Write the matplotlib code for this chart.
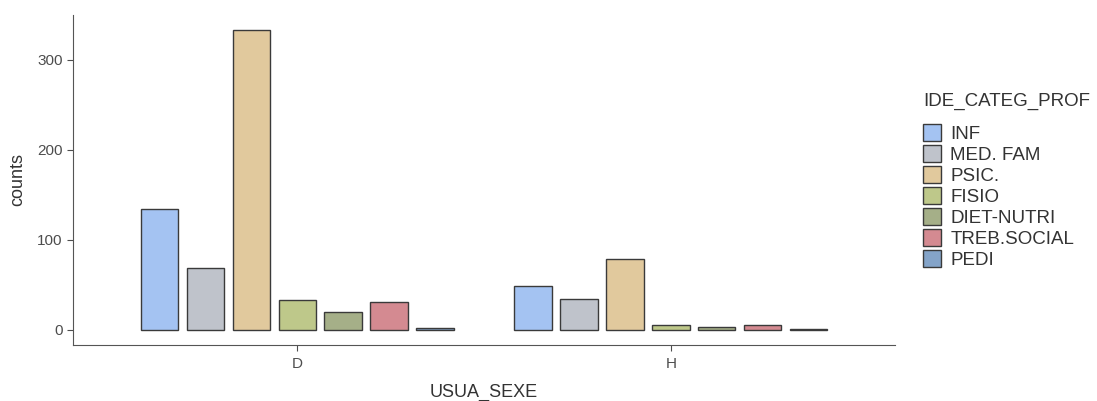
import matplotlib.pyplot as plt
import matplotlib.patches as mpatches
import numpy as np

plt.rcParams['font.family'] = ['Liberation Sans', 'DejaVu Sans']

groups = ['D', 'H']
categories = ['INF', 'MED. FAM', 'PSIC.', 'FISIO', 'DIET-NUTRI', 'TREB.SOCIAL', 'PEDI']
counts_d = [134, 69, 333, 33, 20, 31, 2]
counts_h = [49, 34, 79, 5, 3, 5, 1]
colors = ['#a4c3f2', '#bfc3cb', '#e1c99d', '#bec88a', '#a5af88', '#d48a91', '#84a4c9']

fig = plt.figure(figsize=(10.97, 4.01), dpi=100)
ax = fig.add_axes([73 / 1097, 56 / 401, 822 / 1097, 330 / 401])

x = np.arange(1, len(groups) + 1)
pitch = 0.123
width = 0.1
for i, (cat, col) in enumerate(zip(categories, colors)):
    vals = [counts_d[i], counts_h[i]]
    ax.bar(x + (i - 3) * pitch, vals, width=width, color=col,
           edgecolor='#3a3a3a', linewidth=1.0, label=cat)

ax.set_xlim(0.4, 2.6)
ax.set_ylim(-17, 350)
ax.set_xticks(x)
ax.set_xticklabels(groups)
ax.set_yticks([0, 100, 200, 300])
for s in ['top', 'right']:
    ax.spines[s].set_visible(False)
for s in ['left', 'bottom']:
    ax.spines[s].set_color('#555555')
ax.tick_params(colors='#4d4d4d', labelsize=11, length=4)
ax.tick_params(axis='x', pad=5)
ax.set_xlabel('USUA_SEXE', fontsize=13, color='#333333', labelpad=9)
ax.set_ylabel('counts', fontsize=13, color='#333333', labelpad=8)

handles = [mpatches.Patch(facecolor=c, edgecolor='#3a3a3a', label=l)
           for l, c in zip(categories, colors)]
leg = fig.legend(handles=handles, title='IDE_CATEG_PROF', loc='upper left',
                 bbox_to_anchor=(923 / 1097, 308 / 401), frameon=False,
                 fontsize=13.5, title_fontsize=13.5, handlelength=0.95,
                 handleheight=1.0, handletextpad=0.5, labelspacing=0.12,
                 borderaxespad=0, borderpad=0)
leg._legend_box.align = 'left'
leg._legend_box.sep = 10
for t in leg.get_texts():
    t.set_color('#333333')
leg.get_title().set_color('#333333')

fig.savefig('out.png', dpi=100)
